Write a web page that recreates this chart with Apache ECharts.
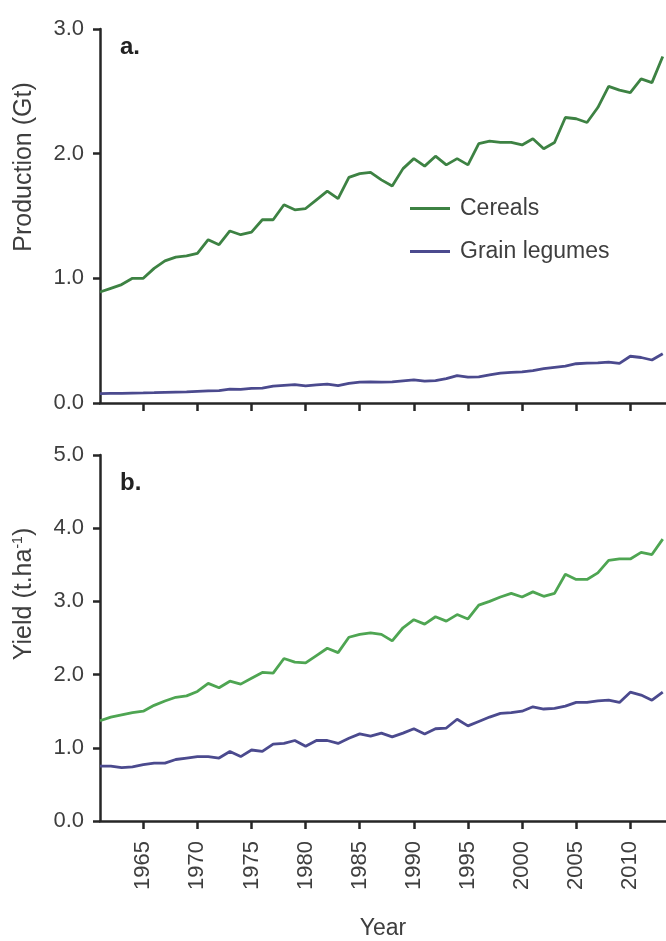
<!DOCTYPE html>
<html>
<head>
<meta charset="utf-8">
<script src="https://cdn.jsdelivr.net/npm/echarts@6/dist/echarts.min.js"></script>
<style>
html,body{margin:0;padding:0;background:#fff;}
#c{width:666px;height:941px;}
</style>
</head>
<body>
<div id="c"></div>
<script>
const years = [1961,1962,1963,1964,1965,1966,1967,1968,1969,1970,
  1971,1972,1973,1974,1975,1976,1977,1978,1979,1980,
  1981,1982,1983,1984,1985,1986,1987,1988,1989,1990,
  1991,1992,1993,1994,1995,1996,1997,1998,1999,2000,
  2001,2002,2003,2004,2005,2006,2007,2008,2009,2010,
  2011,2012,2013];
const yearTicks = [1965,1970,1975,1980,1985,1990,1995,2000,2005,2010];
const cerealProd = [0.89,0.92,0.95,1.00,1.00,1.08,1.14,1.17,1.18,1.20,
  1.31,1.27,1.38,1.35,1.37,1.47,1.47,1.59,1.55,1.56,
  1.63,1.70,1.64,1.81,1.84,1.85,1.79,1.74,1.88,1.96,
  1.90,1.98,1.91,1.96,1.91,2.08,2.10,2.09,2.09,2.07,
  2.12,2.04,2.09,2.29,2.28,2.25,2.37,2.54,2.51,2.49,
  2.60,2.57,2.78];
const legumeProd = [0.075,0.077,0.078,0.080,0.081,0.083,0.086,0.088,0.090,0.094,
  0.097,0.100,0.112,0.110,0.118,0.120,0.135,0.142,0.148,0.138,
  0.145,0.152,0.140,0.158,0.168,0.170,0.168,0.170,0.178,0.185,
  0.175,0.180,0.195,0.220,0.208,0.210,0.225,0.240,0.245,0.250,
  0.260,0.275,0.285,0.295,0.315,0.320,0.322,0.328,0.318,0.375,
  0.365,0.345,0.395];
const cerealYield = [1.37,1.42,1.45,1.48,1.50,1.58,1.64,1.69,1.71,1.77,
  1.88,1.82,1.91,1.87,1.95,2.03,2.02,2.22,2.17,2.16,
  2.26,2.36,2.30,2.51,2.55,2.57,2.55,2.46,2.64,2.75,
  2.69,2.79,2.73,2.82,2.76,2.95,3.00,3.06,3.11,3.06,
  3.13,3.07,3.11,3.37,3.30,3.30,3.39,3.56,3.58,3.58,
  3.67,3.64,3.85];
const legumeYield = [0.75,0.75,0.73,0.74,0.77,0.79,0.79,0.84,0.86,0.88,
  0.88,0.86,0.95,0.88,0.97,0.95,1.05,1.06,1.10,1.02,
  1.10,1.10,1.06,1.13,1.19,1.16,1.20,1.15,1.20,1.26,
  1.19,1.26,1.27,1.39,1.30,1.36,1.42,1.47,1.48,1.50,
  1.56,1.53,1.54,1.57,1.62,1.62,1.64,1.65,1.62,1.76,
  1.72,1.65,1.76];
const seriesNames = ['Cereals','Grain legumes'];

const pair = arr => years.map((y,i)=>[y,arr[i]]);
const FONT = '"Liberation Sans", Arial, sans-serif';
const TXT = '#3e3e3e';
const AX = '#262626';

function xAx(idx, showLabels){
  return {
    type:'value', gridIndex:idx, min:1961, max:2013.3,
    splitLine:{show:false},
    axisLine:{show:true, onZero:false, lineStyle:{color:AX,width:2.5}},
    axisTick:{show:true, customValues:yearTicks, length:8, lineStyle:{color:AX,width:2.5}},
    axisLabel:{show:showLabels, customValues:yearTicks, rotate:90, margin:20,
      fontSize:22, fontFamily:FONT, color:TXT, formatter: v => String(v)},
    name: showLabels ? 'Year' : '', nameLocation:'middle', nameGap:96,
    nameTextStyle:{fontSize:23, fontFamily:FONT, color:TXT}
  };
}
function yAx(idx, max){
  return {
    type:'value', gridIndex:idx, min:0, max:max, interval:1,
    splitLine:{show:false},
    axisLine:{show:true, lineStyle:{color:AX,width:2.5}},
    axisTick:{show:true, length:7, lineStyle:{color:AX,width:2.5}},
    axisLabel:{margin:16, fontSize:22, fontFamily:FONT, color:TXT,
      formatter: v => v.toFixed(1)}
  };
}
function line(name, xi, data, color){
  return {type:'line', name:name, xAxisIndex:xi, yAxisIndex:xi, data:data,
    showSymbol:false, symbol:'none', lineStyle:{color:color,width:2.8}, itemStyle:{color:color},
    animation:false};
}

const chart = echarts.init(document.getElementById('c'), null, {renderer:'canvas'});
chart.setOption({
  backgroundColor:'#fff',
  animation:false,
  grid:[
    {left:100, right:0, top:29, height:374},
    {left:100, right:0, top:455, height:374}
  ],
  xAxis:[xAx(0,false), xAx(1,true)],
  yAxis:[yAx(0,3), yAx(1,5)],
  legend:{
    data:seriesNames, orient:'vertical', left:405, top:192, itemGap:20,
    icon:'rect', itemWidth:40, itemHeight:3,
    textStyle:{fontSize:23, fontFamily:FONT, color:TXT, padding:[0,0,0,5]}
  },
  graphic:[
    {type:'text', x:24, y:167, rotation:Math.PI/2,
      style:{text:'Production (Gt)', fontSize:25, fontFamily:FONT, fill:TXT, align:'center', verticalAlign:'middle'}},
    {type:'text', x:24, y:594, rotation:Math.PI/2,
      style:{text:'Yield (t.ha{s|-1})', fontSize:25, fontFamily:FONT, fill:TXT, align:'center', verticalAlign:'middle',
        rich:{s:{fontSize:14, verticalAlign:'top', fill:TXT, fontFamily:FONT, padding:[0,0,8,0]}}}},
    {type:'text', x:120, y:47,
      style:{text:'a.', fontSize:24, fontWeight:'bold', fontFamily:FONT, fill:'#222', verticalAlign:'middle'}},
    {type:'text', x:120, y:483,
      style:{text:'b.', fontSize:24, fontWeight:'bold', fontFamily:FONT, fill:'#222', verticalAlign:'middle'}}
  ],
  series:[
    line(seriesNames[0],0,pair(cerealProd),'#3d8243'),
    line(seriesNames[1],0,pair(legumeProd),'#4b4a8e'),
    line(seriesNames[0],1,pair(cerealYield),'#4ea552'),
    line(seriesNames[1],1,pair(legumeYield),'#4b4a8e')
  ]
});
</script>
</body>
</html>
